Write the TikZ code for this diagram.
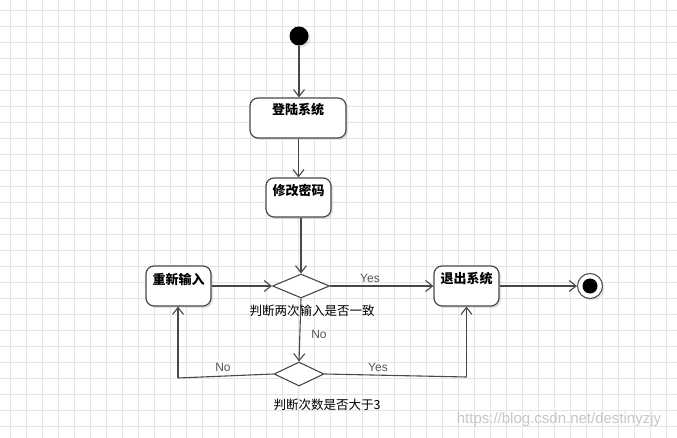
\documentclass[tikz,border=0pt]{standalone}
\usepackage{fontspec}
\setmainfont{Liberation Sans}
\newfontfamily\cjk{Noto Sans CJK SC}
\usetikzlibrary{shapes.geometric,arrows.meta,shadows}
\definecolor{linec}{HTML}{484848}
\definecolor{gridc}{HTML}{E4E4E4}
\definecolor{lblc}{HTML}{555555}
\begin{document}
\begin{tikzpicture}[x=1pt,y=-1pt,
  conn/.style={draw=linec, line width=1.1pt, -{Straight Barb[length=7pt,width=11pt,line width=1.1pt]}},
  plain/.style={draw=linec, line width=1.1pt},
  actbox/.style={draw=linec, line width=1.2pt, rounded corners=8pt, fill=white, inner sep=0pt,
     drop shadow={shadow xshift=2pt, shadow yshift=-2pt, fill=black, opacity=0.10}},
  acttext/.style={font=\cjk\bfseries\fontsize{13}{15}\selectfont, inner sep=0pt},
  decision/.style={diamond, draw=linec, line width=1.1pt, fill=white, inner sep=0pt},
  cond/.style={font=\cjk\fontsize{12.5}{15}\selectfont, inner sep=0pt},
  yn/.style={font=\fontsize{12}{14}\selectfont, text=lblc, inner sep=0pt}
]
\useasboundingbox (0,0) rectangle (677,438);
\fill[white] (0,0) rectangle (677,438);
\foreach \g in {10,26,...,674} \draw[gridc, line width=0.8pt] (\g,0) -- (\g,438);
\foreach \g in {10,26,...,434} \draw[gridc, line width=0.8pt] (0,\g) -- (677,\g);

% start
\node[circle, fill=black, minimum size=19pt, inner sep=0pt,
  drop shadow={shadow xshift=2pt, shadow yshift=-2pt, fill=black, opacity=0.10}] (start) at (299,36) {};

% activities
\node[actbox, minimum width=96pt, minimum height=40pt] (login) at (298,118) {};
\node[acttext] (logintxt) at (298,110) {登陆系统};
\node[actbox, minimum width=65pt, minimum height=39pt] (modify) at (298.5,197.5) {};
\node[acttext] (modifytxt) at (298.5,190) {修改密码};
\node[actbox, minimum width=65pt, minimum height=40pt] (reinput) at (178.5,286) {};
\node[acttext] (reinputtxt) at (178.5,279) {重新输入};
\node[actbox, minimum width=65pt, minimum height=40pt] (exit) at (466.5,286) {};
\node[acttext] (exittxt) at (466.5,279) {退出系统};

% decisions
\node[decision, minimum width=57pt, minimum height=24pt] (d1) at (301,286) {};
\node[decision, minimum width=50pt, minimum height=24pt] (d2) at (299,374) {};
\node[cond] (d1lbl) at (312,311) {判断两次输入是否一致};
\node[cond] (d2lbl) at (327,405) {判断次数是否大于3};

% end
\node[circle, draw=linec, line width=1pt, fill=white, minimum size=25pt, inner sep=0pt,
  drop shadow={shadow xshift=2pt, shadow yshift=-2pt, fill=black, opacity=0.10}] (final) at (590,286) {};
\node[circle, fill=black, minimum size=15pt, inner sep=0pt] (finalin) at (590,286) {};

% bend points
\coordinate (cno) at (178,378);
\coordinate (cyes) at (466.5,377);

% connectors
\draw[conn] (start) -- (start |- login.north);
\draw[conn] (login.south -| modify) -- (modify.north);
\draw[conn] (d1.north |- modify.south) -- (d1.north);
\draw[conn] (reinput.east) -- (d1.west);
\draw[conn] (d1.east) -- (exit.west);
\draw[conn] (exit.east) -- (final.west);
\draw[conn] (d1.south) -- (d2.north);
\draw[plain] (d2.west) -- (cno);
\draw[conn] (cno) -- (cno |- reinput.south);
\draw[plain] (d2.east) -- (cyes);
\draw[conn] (cyes) -- (exit.south);

% labels
\node[yn] (yes1) at (370,278) {Yes};
\node[yn] (no1) at (319,334) {No};
\node[yn] (no2) at (223,367) {No};
\node[yn] (yes2) at (378,367) {Yes};

% watermark
\node[font=\fontsize{15}{17}\selectfont, text=black!22, inner sep=0pt] (wm) at (559,420) {https://blog.csdn.net/destinyzjy};
\end{tikzpicture}
\end{document}
